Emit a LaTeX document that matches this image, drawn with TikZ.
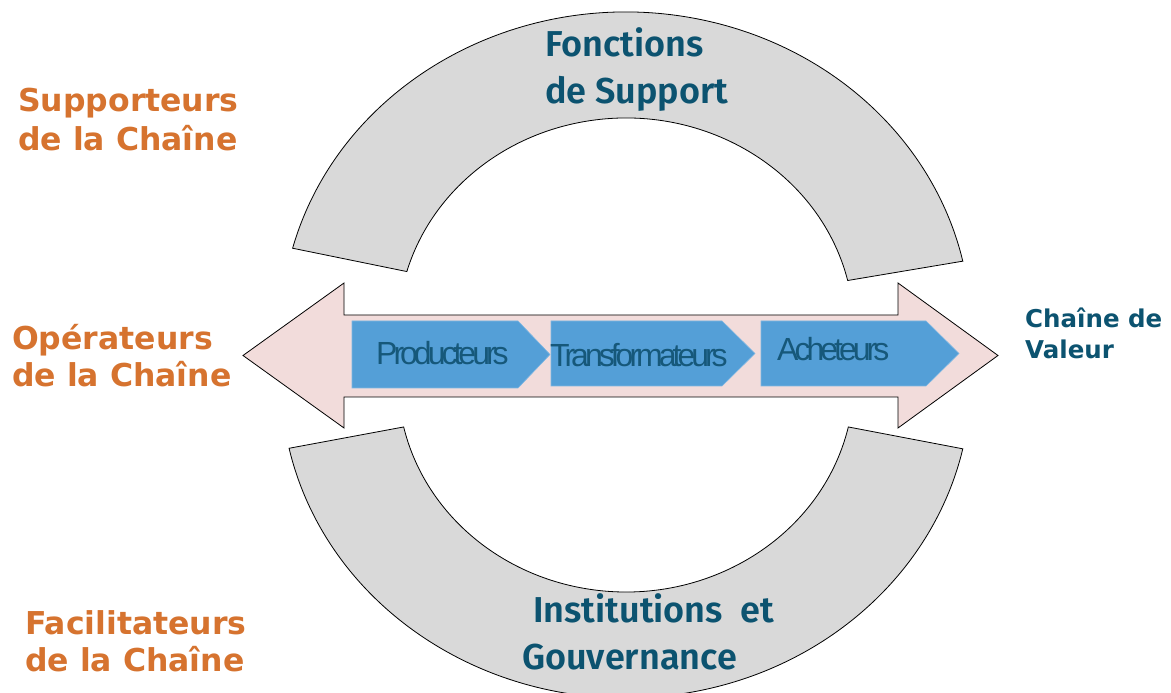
\documentclass[tikz,border=0pt]{standalone}
\usepackage{fontspec}
\usepackage{graphicx}
\usetikzlibrary{calc}
\setmainfont{DejaVu Sans}
\newfontfamily\dvfont{DejaVu Sans}
\newfontfamily\firam{Fira Sans SemiBold}
\newfontfamily\arialf{Liberation Sans}[LetterSpace=-12.5]
\definecolor{orangeT}{RGB}{214,115,47}
\definecolor{tealT}{RGB}{12,83,112}
\definecolor{chevT}{RGB}{22,88,122}
\definecolor{arcG}{RGB}{217,217,217}
\definecolor{arrowP}{RGB}{242,220,219}
\definecolor{chevB}{RGB}{84,159,215}
\definecolor{chevE}{RGB}{125,182,226}
\tikzset{
  arcshape/.style={fill=arcG, draw=black, line width=0.8pt, line join=miter},
  bigarrow/.style={fill=arrowP, draw=black, line width=0.8pt},
  chevron/.style={fill=chevB, draw=chevE, line width=0.6pt},
  sidelabel/.style={anchor=base west, inner sep=0pt, text=orangeT, font=\dvfont\bfseries\fontsize{31.5}{38}\selectfont},
  arclabel/.style={anchor=base west, inner sep=0pt, text=tealT, font=\firam\fontsize{36}{46}\selectfont},
  chevlabel/.style={anchor=base west, inner sep=0pt, text=chevT, font=\arialf\fontsize{32}{38}\selectfont},
  vlabel/.style={anchor=base west, inner sep=0pt, text=tealT, font=\dvfont\bfseries\fontsize{24.5}{30}\selectfont}
}
\begin{document}
\begin{tikzpicture}[x=1pt,y=1pt]
\useasboundingbox (0,0) rectangle (1171,693);
\clip (0,0) rectangle (1171,693);
\fill[white] (0,0) rectangle (1171,693);
% centres of the two arcs
\coordinate (ctop) at (626,363);
\coordinate (cbot) at (626,313);
% top arc
\draw[arcshape] ($(ctop)+(165.1:345pt and 318pt)$)
  arc[start angle=165.1, end angle=12.5, x radius=345pt, y radius=318pt]
  -- ($(ctop)+(13.5:228pt and 212pt)$)
  arc[start angle=13.5, end angle=164, x radius=228pt, y radius=212pt]
  -- cycle;
% bottom arc
\draw[arcshape] ($(cbot)+(192.4:345pt and 318pt)$)
  arc[start angle=192.4, end angle=347.5, x radius=345pt, y radius=318pt]
  -- ($(cbot)+(347.2:228pt and 212pt)$)
  arc[start angle=347.2, end angle=192.8, x radius=228pt, y radius=212pt]
  -- cycle;
% double arrow
\draw[bigarrow] (243,337.5) -- (344,410) -- (344,378) -- (898,378) -- (898,410)
  -- (998,337.5) -- (898,265) -- (898,296) -- (344,296) -- (344,265) -- cycle;
% chevrons
\draw[chevron] (352,372) -- (518,372) -- (550,338.5) -- (518,305) -- (352,305) -- cycle;
\draw[chevron] (551,372) -- (722,372) -- (755,339.5) -- (722,307) -- (551,307) -- cycle;
\draw[chevron] (761,372) -- (926,372) -- (959,339.5) -- (926,307) -- (761,307) -- cycle;
\node[chevlabel] (prod) at (376,328) {Producteurs};
\node[chevlabel] (trans) at (550,326) {Transformateurs};
\node[chevlabel] (ach) at (777,332) {Acheteurs};
% arc labels
\node[arclabel] (fon1) at (545,636) {Fonctions};
\node[arclabel] (fon2) at (545,589.5) {de Support};
\node[arclabel] (ins1) at (533,70) {Institutions\ \ et};
\node[arclabel] (ins2) at (522,23) {Gouvernance};
% side labels
\node[sidelabel] (sup1) at (18,581) {Supporteurs};
\node[sidelabel] (sup2) at (18,542) {de la Chaîne};
\node[sidelabel] (op1) at (12,343) {Opérateurs};
\node[sidelabel] (op2) at (12,306) {de la Chaîne};
\node[sidelabel] (fac1) at (25,58.7) {Facilitateurs};
\node[sidelabel] (fac2) at (25,21.3) {de la Chaîne};
\node[vlabel] (val1) at (1025,365) {Chaîne de};
\node[vlabel] (val2) at (1025,334) {Valeur};
\end{tikzpicture}
\end{document}
